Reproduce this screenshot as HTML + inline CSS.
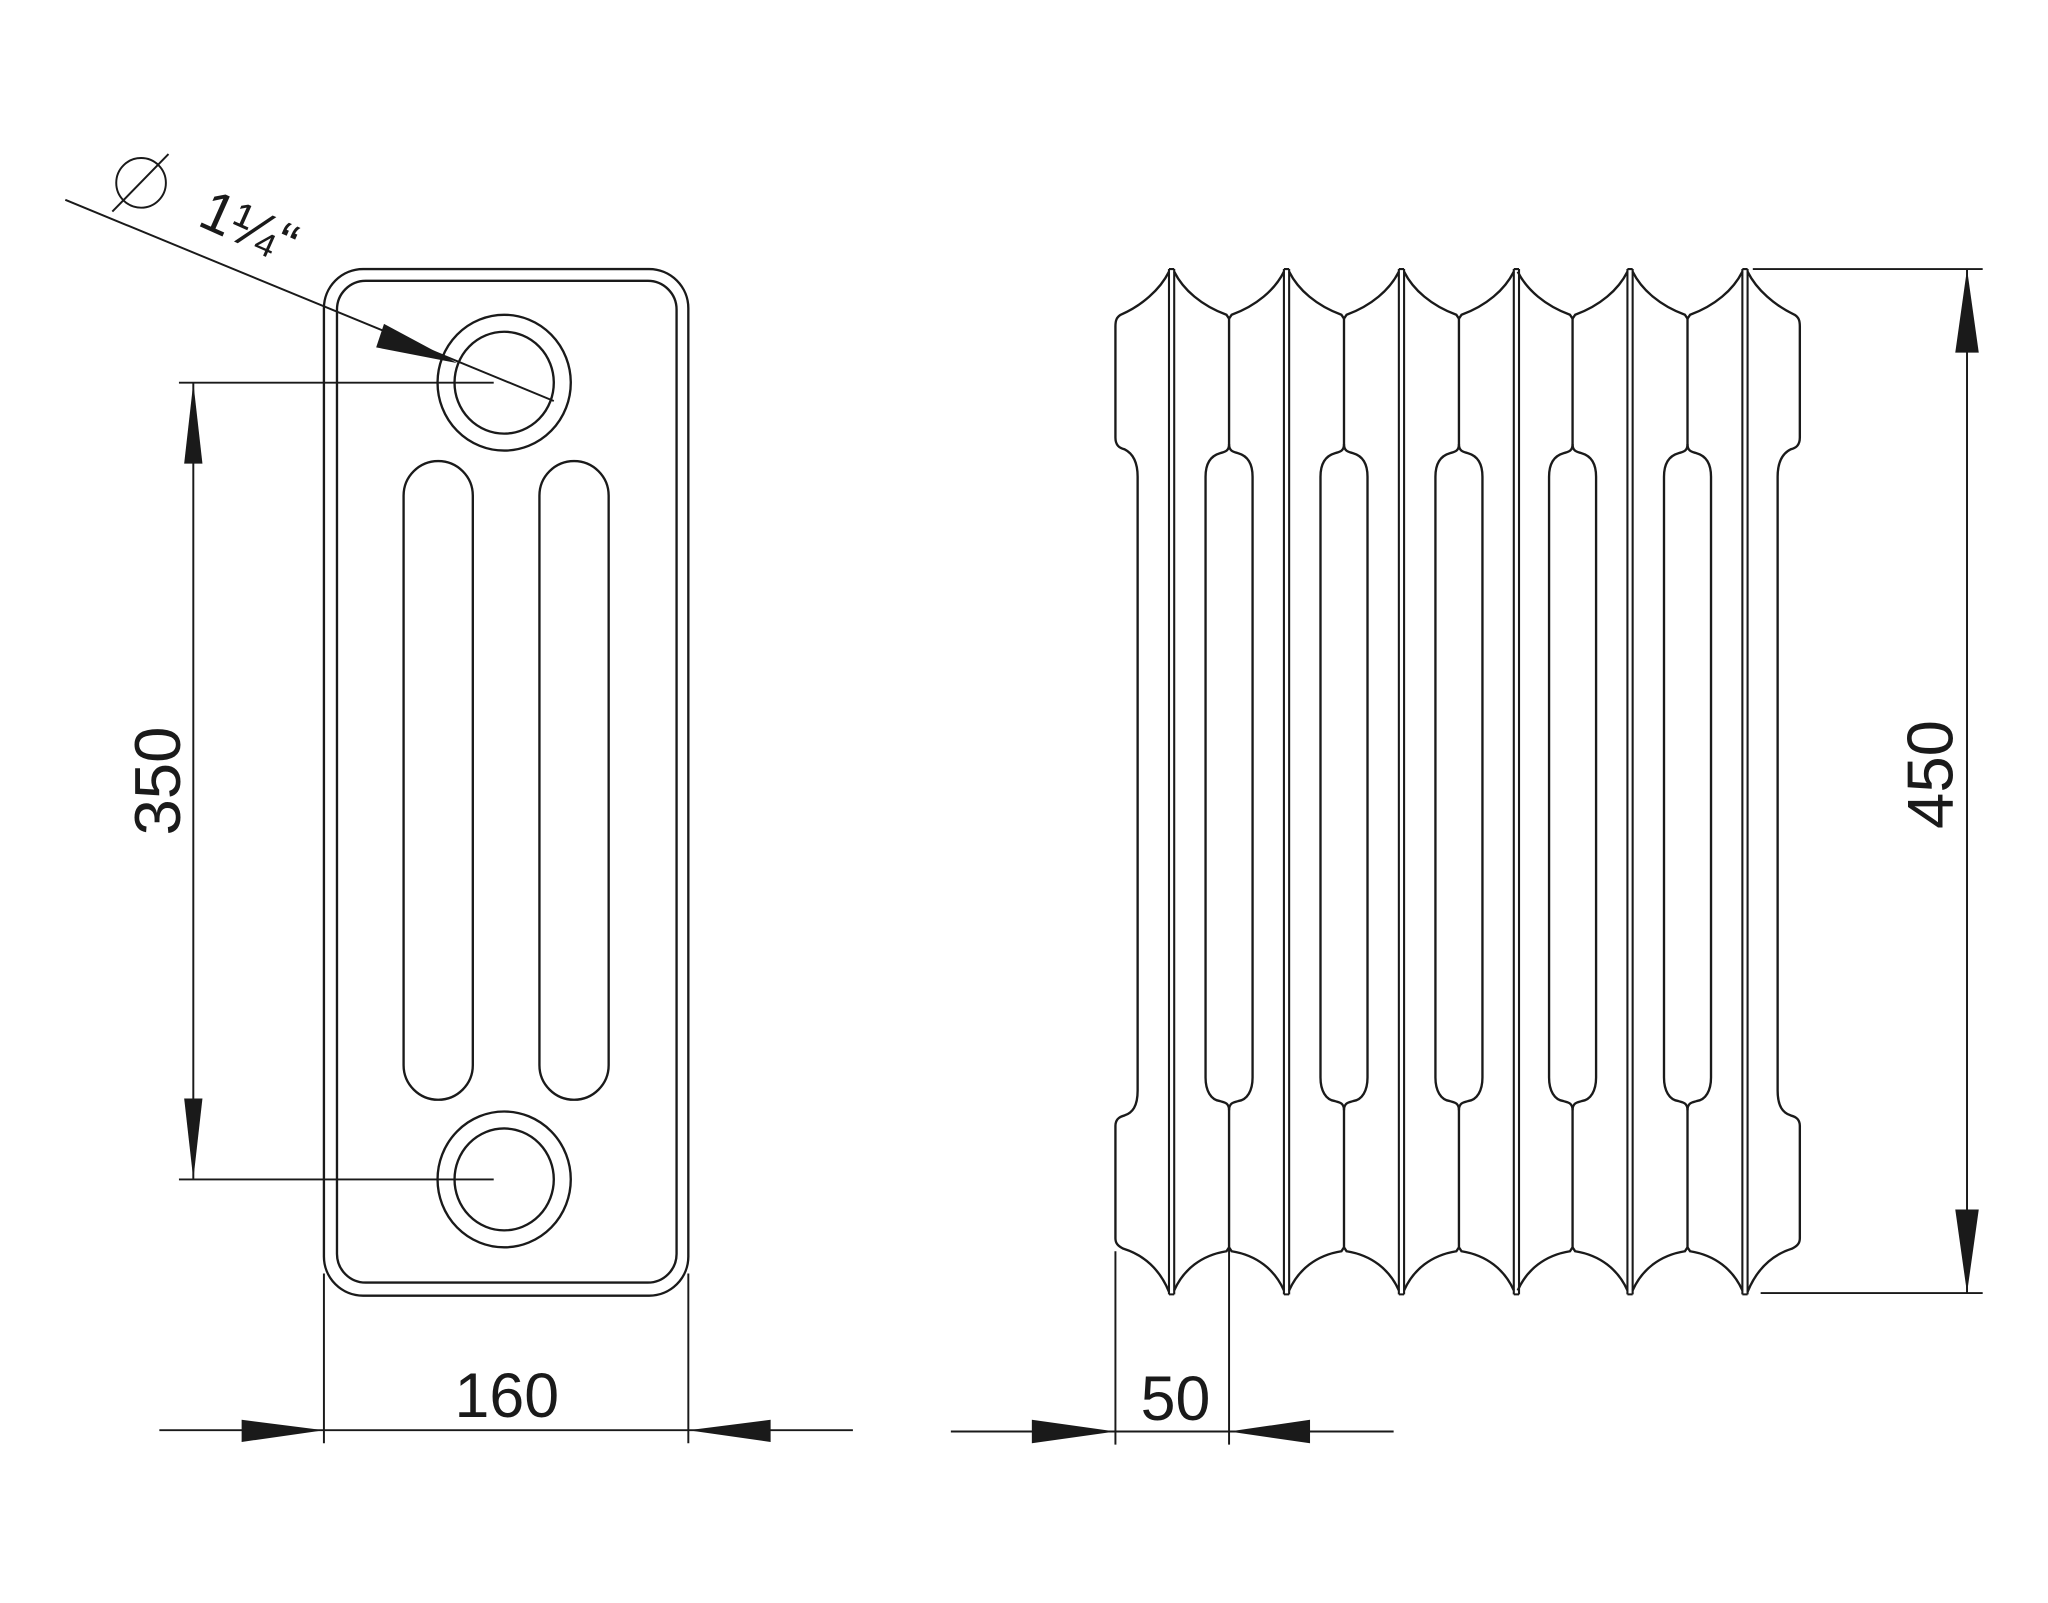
<!DOCTYPE html>
<html><head><meta charset="utf-8"><style>html,body{margin:0;padding:0;background:#fff}svg{display:block}</style></head><body>
<svg width="2048" height="1603" viewBox="0 0 1568 1227.3" xmlns="http://www.w3.org/2000/svg">
<defs>
<g id="gap" fill="none" stroke="#1a1a1a" stroke-width="1.8">
<path d="M899,208 C906,222 920,234 939,241 L941,244 L943,241 C962,234 976,222 983,208"/>
<path d="M941,244 L941,340 C941,346 937,346 934,347 C927,349 923,355 923,365 L923,825 C923,835 927,842 934,843 C937,844 941,844 941,850 L941,955"/>
<path d="M941,340 C941,346 945,346 948,347 C955,349 959,355 959,365 L959,825 C959,835 955,842 948,843 C945,844 941,844 941,850"/>
<path d="M899,988 C906,972 920,961 939,958 L941,955 L943,958 C962,961 976,972 983,988"/>
</g>
<g id="fin" fill="none" stroke="#1a1a1a" stroke-width="1.6">
<path d="M895,206 L895,991 M899,206 L899,991 M895,206 L899,206 M895,991 L899,991"/>
</g>
</defs>
<g fill="none" stroke="#1a1a1a" stroke-width="1.8">
<rect x="248" y="206" width="279" height="786" rx="30"/>
<rect x="258" y="215" width="260" height="767" rx="22"/>
<ellipse cx="386" cy="293" rx="51" ry="52"/>
<ellipse cx="386" cy="293" rx="38" ry="39"/>
<ellipse cx="386" cy="903" rx="51" ry="52"/>
<ellipse cx="386" cy="903" rx="38" ry="39"/>
<rect x="309" y="353" width="53" height="489" rx="26.5"/>
<rect x="413" y="353" width="53" height="489" rx="26.5"/>
<path d="M50,153 L424,307" stroke-width="1.5"/>
<path d="M137,293 L378,293 M137,903 L378,903 M148,293 L148,903" stroke-width="1.5"/>
<path d="M248,975 L248,1105 M527,975 L527,1105 M122,1095 L653,1095" stroke-width="1.5"/>
<path d="M854,958 L854,1106 M941,955 L941,1106 M728,1096 L1067,1096" stroke-width="1.5"/>
<path d="M1342,206 L1518,206 M1348,990 L1518,990 M1506,206 L1506,990" stroke-width="1.5"/>
<path d="M895,208 C888,222 874,234 858,241 C855,243 854,245 854,250 L854,335 C854,341 857,343 861,344 C867,347 871,353 871,365 L871,835 C871,847 867,852 861,854 C857,855 854,857 854,862 L854,948 C854,952 856,954 860,956 C876,961 888,972 895,989"/>
<path d="M1338,208 C1345,222 1359,234 1374,241 C1377,243 1378,245 1378,250 L1378,335 C1378,341 1375,343 1371,344 C1365,347 1361,353 1361,365 L1361,835 C1361,847 1365,852 1371,854 C1375,855 1378,857 1378,862 L1378,948 C1378,952 1376,954 1372,956 C1356,961 1345,972 1338,989"/>
<!-- diameter symbol -->
<ellipse cx="108" cy="140" rx="19" ry="19" stroke-width="1.5"/>
<path d="M86,162 L129,118" stroke-width="1.5"/>
</g>
<use href="#gap"/>
<use href="#gap" transform="translate(88,0)"/>
<use href="#gap" transform="translate(176,0)"/>
<use href="#gap" transform="translate(263,0)"/>
<use href="#gap" transform="translate(351,0)"/>
<use href="#fin"/>
<use href="#fin" transform="translate(88,0)"/>
<use href="#fin" transform="translate(176,0)"/>
<use href="#fin" transform="translate(264,0)"/>
<use href="#fin" transform="translate(351,0)"/>
<use href="#fin" transform="translate(439,0)"/>
<g fill="#1a1a1a">
<polygon points="350,278 288,266 294,248"/>
<polygon points="148,293 141,355 155,355"/>
<polygon points="148,903 141,841 155,841"/>
<polygon points="248,1095 185,1087 185,1104"/>
<polygon points="527,1095 590,1087 590,1104"/>
<polygon points="854,1096 790,1087 790,1105"/>
<polygon points="941,1096 1003,1087 1003,1105"/>
<polygon points="1506,206 1497,270 1515,270"/>
<polygon points="1506,990 1497,926 1515,926"/>
</g>
<g font-family="'Liberation Sans', 'DejaVu Sans', sans-serif" fill="#1a1a1a">
<text x="388" y="1085" font-size="48" text-anchor="middle">160</text>
<text x="900" y="1087" font-size="48" text-anchor="middle">50</text>
<text transform="translate(138,598) rotate(-90)" font-size="50" text-anchor="middle">350</text>
<text transform="translate(1495,593) rotate(-90)" font-size="50" text-anchor="middle">450</text>
<text transform="translate(150,172) rotate(24)" font-size="44">1¼“</text>
</g>
</svg>
</body></html>
